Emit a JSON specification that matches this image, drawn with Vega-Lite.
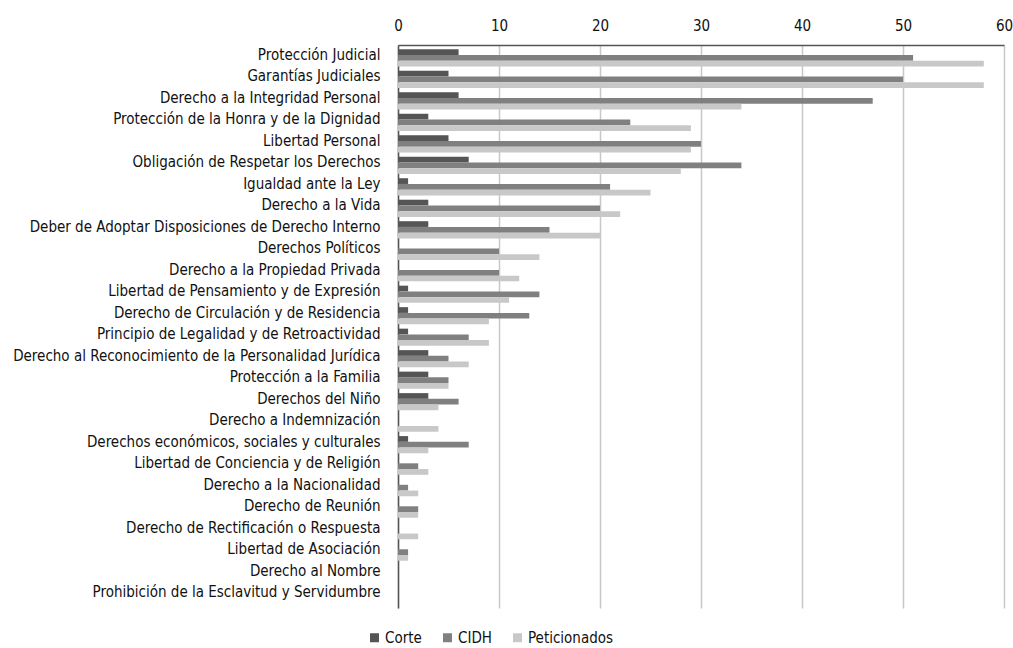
{
  "$schema": "https://vega.github.io/schema/vega-lite/v6.json",
  "width": 606,
  "height": 563,
  "autosize": {"type": "none"},
  "padding": {"left": 398, "top": 45, "right": 9, "bottom": 40},
  "background": "white",
  "config": {
    "font": "'DejaVu Sans Condensed', 'Liberation Sans', sans-serif",
    "view": {"stroke": null},
    "scale": {"bandPaddingInner": 0.16, "bandPaddingOuter": 0.06, "offsetBandPaddingInner": 0}
  },
  "data": {"values": [
    {"derecho": "Protección Judicial", "serie": "Corte", "valor": 6},
    {"derecho": "Protección Judicial", "serie": "CIDH", "valor": 51},
    {"derecho": "Protección Judicial", "serie": "Peticionados", "valor": 58},
    {"derecho": "Garantías Judiciales", "serie": "Corte", "valor": 5},
    {"derecho": "Garantías Judiciales", "serie": "CIDH", "valor": 50},
    {"derecho": "Garantías Judiciales", "serie": "Peticionados", "valor": 58},
    {"derecho": "Derecho a la Integridad Personal", "serie": "Corte", "valor": 6},
    {"derecho": "Derecho a la Integridad Personal", "serie": "CIDH", "valor": 47},
    {"derecho": "Derecho a la Integridad Personal", "serie": "Peticionados", "valor": 34},
    {"derecho": "Protección de la Honra y de la Dignidad", "serie": "Corte", "valor": 3},
    {"derecho": "Protección de la Honra y de la Dignidad", "serie": "CIDH", "valor": 23},
    {"derecho": "Protección de la Honra y de la Dignidad", "serie": "Peticionados", "valor": 29},
    {"derecho": "Libertad Personal", "serie": "Corte", "valor": 5},
    {"derecho": "Libertad Personal", "serie": "CIDH", "valor": 30},
    {"derecho": "Libertad Personal", "serie": "Peticionados", "valor": 29},
    {"derecho": "Obligación de Respetar los Derechos", "serie": "Corte", "valor": 7},
    {"derecho": "Obligación de Respetar los Derechos", "serie": "CIDH", "valor": 34},
    {"derecho": "Obligación de Respetar los Derechos", "serie": "Peticionados", "valor": 28},
    {"derecho": "Igualdad ante la Ley", "serie": "Corte", "valor": 1},
    {"derecho": "Igualdad ante la Ley", "serie": "CIDH", "valor": 21},
    {"derecho": "Igualdad ante la Ley", "serie": "Peticionados", "valor": 25},
    {"derecho": "Derecho a la Vida", "serie": "Corte", "valor": 3},
    {"derecho": "Derecho a la Vida", "serie": "CIDH", "valor": 20},
    {"derecho": "Derecho a la Vida", "serie": "Peticionados", "valor": 22},
    {"derecho": "Deber de Adoptar Disposiciones de Derecho Interno", "serie": "Corte", "valor": 3},
    {"derecho": "Deber de Adoptar Disposiciones de Derecho Interno", "serie": "CIDH", "valor": 15},
    {"derecho": "Deber de Adoptar Disposiciones de Derecho Interno", "serie": "Peticionados", "valor": 20},
    {"derecho": "Derechos Políticos", "serie": "Corte", "valor": 0},
    {"derecho": "Derechos Políticos", "serie": "CIDH", "valor": 10},
    {"derecho": "Derechos Políticos", "serie": "Peticionados", "valor": 14},
    {"derecho": "Derecho a la Propiedad Privada", "serie": "Corte", "valor": 0},
    {"derecho": "Derecho a la Propiedad Privada", "serie": "CIDH", "valor": 10},
    {"derecho": "Derecho a la Propiedad Privada", "serie": "Peticionados", "valor": 12},
    {"derecho": "Libertad de Pensamiento y de Expresión", "serie": "Corte", "valor": 1},
    {"derecho": "Libertad de Pensamiento y de Expresión", "serie": "CIDH", "valor": 14},
    {"derecho": "Libertad de Pensamiento y de Expresión", "serie": "Peticionados", "valor": 11},
    {"derecho": "Derecho de Circulación y de Residencia", "serie": "Corte", "valor": 1},
    {"derecho": "Derecho de Circulación y de Residencia", "serie": "CIDH", "valor": 13},
    {"derecho": "Derecho de Circulación y de Residencia", "serie": "Peticionados", "valor": 9},
    {"derecho": "Principio de Legalidad y de Retroactividad", "serie": "Corte", "valor": 1},
    {"derecho": "Principio de Legalidad y de Retroactividad", "serie": "CIDH", "valor": 7},
    {"derecho": "Principio de Legalidad y de Retroactividad", "serie": "Peticionados", "valor": 9},
    {"derecho": "Derecho al Reconocimiento de la Personalidad Jurídica", "serie": "Corte", "valor": 3},
    {"derecho": "Derecho al Reconocimiento de la Personalidad Jurídica", "serie": "CIDH", "valor": 5},
    {"derecho": "Derecho al Reconocimiento de la Personalidad Jurídica", "serie": "Peticionados", "valor": 7},
    {"derecho": "Protección a la Familia", "serie": "Corte", "valor": 3},
    {"derecho": "Protección a la Familia", "serie": "CIDH", "valor": 5},
    {"derecho": "Protección a la Familia", "serie": "Peticionados", "valor": 5},
    {"derecho": "Derechos del Niño", "serie": "Corte", "valor": 3},
    {"derecho": "Derechos del Niño", "serie": "CIDH", "valor": 6},
    {"derecho": "Derechos del Niño", "serie": "Peticionados", "valor": 4},
    {"derecho": "Derecho a Indemnización", "serie": "Corte", "valor": 0},
    {"derecho": "Derecho a Indemnización", "serie": "CIDH", "valor": 0},
    {"derecho": "Derecho a Indemnización", "serie": "Peticionados", "valor": 4},
    {"derecho": "Derechos económicos, sociales y culturales", "serie": "Corte", "valor": 1},
    {"derecho": "Derechos económicos, sociales y culturales", "serie": "CIDH", "valor": 7},
    {"derecho": "Derechos económicos, sociales y culturales", "serie": "Peticionados", "valor": 3},
    {"derecho": "Libertad de Conciencia y de Religión", "serie": "Corte", "valor": 0},
    {"derecho": "Libertad de Conciencia y de Religión", "serie": "CIDH", "valor": 2},
    {"derecho": "Libertad de Conciencia y de Religión", "serie": "Peticionados", "valor": 3},
    {"derecho": "Derecho a la Nacionalidad", "serie": "Corte", "valor": 0},
    {"derecho": "Derecho a la Nacionalidad", "serie": "CIDH", "valor": 1},
    {"derecho": "Derecho a la Nacionalidad", "serie": "Peticionados", "valor": 2},
    {"derecho": "Derecho de Reunión", "serie": "Corte", "valor": 0},
    {"derecho": "Derecho de Reunión", "serie": "CIDH", "valor": 2},
    {"derecho": "Derecho de Reunión", "serie": "Peticionados", "valor": 2},
    {"derecho": "Derecho de Rectificación o Respuesta", "serie": "Corte", "valor": 0},
    {"derecho": "Derecho de Rectificación o Respuesta", "serie": "CIDH", "valor": 0},
    {"derecho": "Derecho de Rectificación o Respuesta", "serie": "Peticionados", "valor": 2},
    {"derecho": "Libertad de Asociación", "serie": "Corte", "valor": 0},
    {"derecho": "Libertad de Asociación", "serie": "CIDH", "valor": 1},
    {"derecho": "Libertad de Asociación", "serie": "Peticionados", "valor": 1},
    {"derecho": "Derecho al Nombre", "serie": "Corte", "valor": 0},
    {"derecho": "Derecho al Nombre", "serie": "CIDH", "valor": 0},
    {"derecho": "Derecho al Nombre", "serie": "Peticionados", "valor": 0},
    {"derecho": "Prohibición de la Esclavitud y Servidumbre", "serie": "Corte", "valor": 0},
    {"derecho": "Prohibición de la Esclavitud y Servidumbre", "serie": "CIDH", "valor": 0},
    {"derecho": "Prohibición de la Esclavitud y Servidumbre", "serie": "Peticionados", "valor": 0}
  ]},
  "mark": {"type": "bar"},
  "encoding": {
    "y": {
      "field": "derecho", "type": "nominal", "sort": null, "title": null,
      "axis": {"labelFontSize": 15, "labelColor": "#111", "ticks": false, "labelPadding": 18, "labelOffset": -3, "domainColor": "#555", "domainWidth": 1.5, "labelLimit": 420}
    },
    "yOffset": {"field": "serie", "type": "nominal", "sort": ["Corte", "CIDH", "Peticionados"]},
    "x": {
      "field": "valor", "type": "quantitative", "title": null,
      "scale": {"domain": [0, 60], "nice": false},
      "axis": {"orient": "top", "values": [0, 10, 20, 30, 40, 50, 60], "labelFontSize": 15, "labelColor": "#111", "ticks": false, "labelPadding": 12, "domainColor": "#555", "domainWidth": 1.5, "gridColor": "#c8c8c8", "gridWidth": 1.5, "labelFlush": false}
    },
    "color": {
      "field": "serie", "type": "nominal", "sort": ["Corte", "CIDH", "Peticionados"], "title": null,
      "scale": {"domain": ["Corte", "CIDH", "Peticionados"], "range": ["#555555", "#808080", "#c8c8c8"]},
      "legend": {"orient": "none", "legendX": -31, "legendY": 585, "direction": "horizontal", "symbolType": "square", "symbolSize": 81, "labelFontSize": 15, "labelColor": "#111", "labelOffset": 3, "columnPadding": 18, "symbolStrokeWidth": 0}
    }
  }
}
